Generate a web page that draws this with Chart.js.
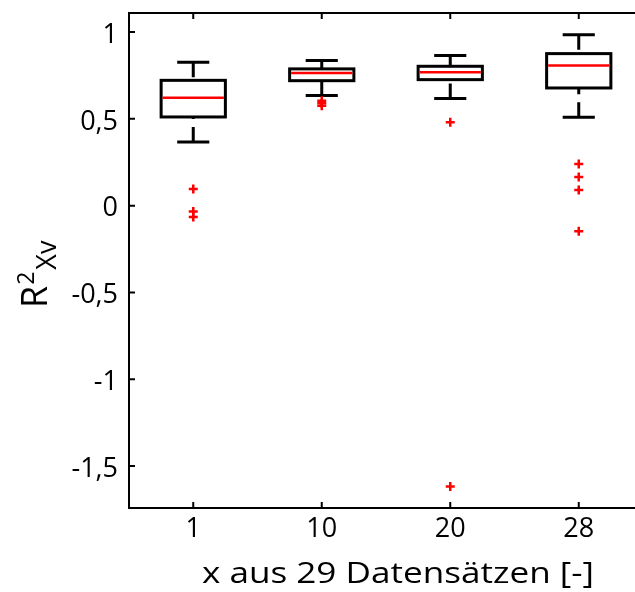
<!DOCTYPE html>
<html>
<head>
<meta charset="utf-8">
<script src="https://cdn.jsdelivr.net/npm/chart.js@4.4.0/dist/chart.umd.min.js"></script>
<style>
  html, body { margin: 0; padding: 0; background: #fff; overflow: hidden; }
  #wrap { width: 650px; height: 592px; }
</style>
</head>
<body>
<div id="wrap"><canvas id="boxplot" width="650" height="592"></canvas></div>
<script>
const categories = ['1', '10', '20', '28'];
const whiskerLow = [0.367, 0.634, 0.617, 0.509];
const q1 = [0.511, 0.720, 0.726, 0.678];
const median = [0.622, 0.765, 0.768, 0.807];
const q3 = [0.722, 0.788, 0.803, 0.876];
const whiskerHigh = [0.826, 0.836, 0.865, 0.984];
const outliers = [
  [0.096, -0.033, -0.065],
  [0.605, 0.59, 0.575],
  [0.48, -1.618],
  [0.24, 0.165, 0.09, -0.148]
];
const yTicks = [-1.5, -1, -0.5, 0, 0.5, 1];

const tickFont = { family: 'Open Sans', size: 27 };

let outlierPoints = [];
outliers.forEach((werte, i) => {
  werte.forEach((v) => outlierPoints.push({ x: i + 1, y: v }));
});

const boxPlugin = {
  id: 'boxen',
  beforeDatasetsDraw(chart) {
    const c = chart.ctx;
    const x = chart.scales.x;
    const y = chart.scales.y;
    c.save();
    for (let i = 0; i < categories.length; i++) {
      const xm = x.getPixelForValue(i + 1);
      const xl = x.getPixelForValue(i + 1 - 0.25);
      const xr = x.getPixelForValue(i + 1 + 0.25);
      const cl = x.getPixelForValue(i + 1 - 0.125);
      const cr = x.getPixelForValue(i + 1 + 0.125);
      const yq1 = y.getPixelForValue(q1[i]);
      const yq3 = y.getPixelForValue(q3[i]);
      const ylo = y.getPixelForValue(whiskerLow[i]);
      const yhi = y.getPixelForValue(whiskerHigh[i]);
      c.strokeStyle = '#000';
      c.lineWidth = 3;
      // gestrichelte Whisker, vom Endstrich aus
      c.setLineDash([15, 8]);
      c.beginPath();
      c.moveTo(xm, yhi); c.lineTo(xm, yq3);
      c.moveTo(xm, ylo); c.lineTo(xm, yq1);
      c.stroke();
      c.setLineDash([]);
      c.beginPath();
      c.moveTo(cl, yhi); c.lineTo(cr, yhi);
      c.moveTo(cl, ylo); c.lineTo(cr, ylo);
      c.stroke();
      c.fillStyle = '#fff';
      c.fillRect(xl, yq3, xr - xl, yq1 - yq3);
      c.strokeRect(xl, yq3, xr - xl, yq1 - yq3);
      c.strokeStyle = '#ff0000';
      c.lineWidth = 2.5;
      const ym = y.getPixelForValue(median[i]);
      c.beginPath();
      c.moveTo(xl + 1.5, ym); c.lineTo(xr - 1.5, ym);
      c.stroke();
    }
    c.restore();
  },
  afterDraw(chart) {
    const c = chart.ctx;
    const a = chart.chartArea;
    const x = chart.scales.x;
    const y = chart.scales.y;
    c.save();
    c.strokeStyle = '#000';
    c.lineWidth = 2;
    c.beginPath();
    c.rect(a.left, a.top, a.right - a.left, a.bottom - a.top);
    x.ticks.forEach((t) => {
      const px = x.getPixelForValue(t.value);
      c.moveTo(px, a.bottom); c.lineTo(px, a.bottom - 6);
      c.moveTo(px, a.top); c.lineTo(px, a.top + 6);
    });
    y.ticks.forEach((t) => {
      const py = y.getPixelForValue(t.value);
      c.moveTo(a.left, py); c.lineTo(a.left + 6, py);
      c.moveTo(a.right, py); c.lineTo(a.right - 6, py);
    });
    c.stroke();

    // Achsentitel
    c.fillStyle = '#000';
    c.textBaseline = 'alphabetic';
    c.textAlign = 'center';
    c.font = '30px "Open Sans"';
    c.save();
    c.translate(398, 583);
    c.scale(1.17, 1);
    c.fillText('x aus 29 Datensätzen [-]', 0, 0);
    c.restore();

    // R^2 mit Index Xv, senkrecht
    c.translate(47, 308);
    c.rotate(-Math.PI / 2);
    c.textAlign = 'left';
    c.font = '36px "Open Sans"';
    c.fillText('R', 0, 0);
    let w = c.measureText('R').width;
    c.font = '23px "Open Sans"';
    c.fillText('2', w + 1, -13);
    let w2 = c.measureText('2').width;
    c.font = '27px "Open Sans"';
    c.fillText('Xv', w + w2 + 3, 9);
    c.restore();
  }
};

const ctx = document.getElementById('boxplot');
window.myChart = new Chart(ctx, {
  type: 'scatter',
  data: {
    datasets: [{
      data: outlierPoints,
      pointStyle: 'cross',
      radius: 4.5,
      borderColor: '#ff0000',
      borderWidth: 2.5
    }]
  },
  options: {
    responsive: false,
    animation: false,
    layout: { padding: { top: 13, right: 5, left: 0, bottom: 0 } },
    plugins: { legend: { display: false }, tooltip: { enabled: false } },
    scales: {
      x: {
        type: 'linear',
        min: 0.5,
        max: 4.5,
        afterBuildTicks: (s) => { s.ticks = categories.map((c, i) => ({ value: i + 1 })); },
        ticks: { callback: (v) => categories[v - 1], font: tickFont, color: '#000', padding: 5, maxRotation: 0 },
        grid: { display: false, drawTicks: false },
        border: { display: false },
        afterFit: (s) => { s.height = 84; s.paddingLeft = 0; s.paddingRight = 0; }
      },
      y: {
        min: -1.742,
        max: 1.11,
        afterBuildTicks: (s) => { s.ticks = yTicks.map((v) => ({ value: v })); },
        ticks: { callback: (v) => String(v).replace('.', ','), font: tickFont, color: '#000', padding: 11, labelOffset: 3 },
        grid: { display: false, drawTicks: false },
        border: { display: false },
        afterFit: (s) => { s.width = 129; s.paddingTop = 0; s.paddingBottom = 0; }
      }
    }
  },
  plugins: [boxPlugin]
});
</script>
</body>
</html>
